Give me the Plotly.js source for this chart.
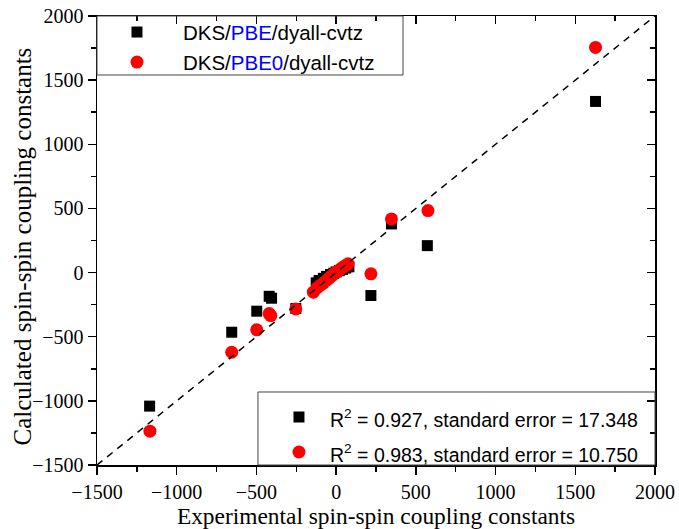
<!DOCTYPE html>
<html>
<head>
<meta charset="utf-8">
<script src="https://cdn.plot.ly/plotly-3.0.1.min.js"></script>
<style>html,body{margin:0;padding:0;background:#fff;}</style>
</head>
<body>
<div id="chart" style="width:679px;height:529px;"></div>
<script>
// Experimental vs calculated spin-spin coupling constants
var expPBE = [1627, 572, 347, 218, -253, -420, -405, -498, -655, -1170,
              -125, -107, -80, -60, -35, -15, 0, 20, 40, 60, 80];
var calcPBE = [1334, 210, 379, -179, -280, -185, -200, -301, -465, -1041,
               -80, -62, -45, -30, -15, -5, 5, 15, 25, 35, 45];
var expPBE0 = [1627, 576, 347, 218, -253, -410, -420, -498, -655, -1168,
               -143, -120, -100, -80, -60, -45, -30, -15, 0, 15, 30, 45, 60, 75];
var calcPBE0 = [1755, 483, 418, -10, -283, -335, -320, -446, -621, -1236,
                -153, -120, -100, -82, -60, -45, -28, -12, 2, 16, 30, 44, 56, 68];
var diagX = [-1500, 2000];
var diagY = [-1500, 2000];
var nameBlack = "<span style='font-size:20.5px'>DKS/<span style='color:#0000ff'>PBE</span>/dyall-cvtz</span>";
var nameRed = "<span style='font-size:20.5px'>DKS/<span style='color:#0000ff'>PBE0</span>/dyall-cvtz</span>";
var statBlack = "<span style='font-size:19.5px'>R<sup>2</sup> = 0.927, standard error = 17.348</span>";
var statRed = "<span style='font-size:19.5px'>R<sup>2</sup> = 0.983, standard error = 10.750</span>";
var xTitle = 'Experimental spin-spin coupling constants';
var yTitle = 'Calculated spin-spin coupling constants';

var serif = "Liberation Serif, Times New Roman, serif";
var sans = "Liberation Sans, Arial, sans-serif";

var traces = [
  {x: expPBE, y: calcPBE, type: 'scatter', mode: 'markers', name: nameBlack,
   marker: {symbol: 'square', size: 11, color: '#000000'}, legend: 'legend'},
  {x: expPBE0, y: calcPBE0, type: 'scatter', mode: 'markers', name: nameRed,
   marker: {symbol: 'circle', size: 13, color: '#ff0000'}, legend: 'legend'},
  {x: [null], y: [null], type: 'scatter', mode: 'markers', name: statBlack,
   marker: {symbol: 'square', size: 11, color: '#000000'}, legend: 'legend2'},
  {x: [null], y: [null], type: 'scatter', mode: 'markers', name: statRed,
   marker: {symbol: 'circle', size: 13, color: '#ff0000'}, legend: 'legend2'},
  {x: diagX, y: diagY, type: 'scatter', mode: 'lines', xaxis: 'x2', yaxis: 'y2',
   line: {color: '#000000', width: 1.5, dash: '7px,6px'}, showlegend: false, hoverinfo: 'skip'}
];

var axBase = {
  range: [-1500, 2000], dtick: 500, tick0: 0, showgrid: false, zeroline: false,
  showline: true, linecolor: '#000', linewidth: 1.5,
  ticks: 'outside', ticklen: 8, tickwidth: 1.5, tickcolor: '#000',
  minor: {ticks: 'outside', dtick: 250, ticklen: 5, tickwidth: 1.5, tickcolor: '#000', showgrid: false},
  tickfont: {family: serif, size: 20, color: '#000'}
};
function clone(o){ return JSON.parse(JSON.stringify(o)); }

var xa = clone(axBase);
xa.title = {text: xTitle, font: {family: serif, size: 23.4, color: '#000'}, standoff: 8};
var ya = clone(axBase);
var xa2 = clone(axBase);
xa2.overlaying = 'x'; xa2.side = 'top'; xa2.ticks = 'inside'; xa2.minor.ticks = 'inside';
xa2.showticklabels = false; xa2.anchor = 'y2';
var ya2 = clone(axBase);
ya2.overlaying = 'y'; ya2.side = 'right'; ya2.ticks = 'inside'; ya2.minor.ticks = 'inside';
ya2.showticklabels = false; ya2.anchor = 'x2';

var layout = {
  width: 679, height: 529,
  margin: {l: 97, r: 24, t: 16, b: 64},
  paper_bgcolor: '#fff', plot_bgcolor: '#fff',
  showlegend: true,
  xaxis: xa, yaxis: ya, xaxis2: xa2, yaxis2: ya2,
  legend: {x: -0.0108, y: 1.0089, xanchor: 'left', yanchor: 'top', bgcolor: 'rgba(0,0,0,0)',
           borderwidth: 0, font: {family: sans, size: 20.8, color: '#000'},
           itemwidth: 82, tracegroupgap: 0},
  legend2: {x: 0.3064, y: 0.157, xanchor: 'left', yanchor: 'top', bgcolor: 'rgba(0,0,0,0)',
            borderwidth: 0, font: {family: sans, size: 24.6, color: '#000'},
            itemwidth: 52, tracegroupgap: 0},
  annotations: [
    {text: yTitle, xref: 'paper', yref: 'paper', x: 0, y: 0.5, xanchor: 'center', yanchor: 'middle',
     xshift: -75, yshift: -6, textangle: -90, showarrow: false,
     font: {family: serif, size: 25, color: '#000'}}
  ],
  shapes: [
    {type: 'rect', xref: 'paper', yref: 'paper', x0: 0, x1: 0.5484, y0: 0.8686, y1: 1,
     line: {color: '#444', width: 1}, fillcolor: 'rgba(0,0,0,0)'},
    {type: 'rect', xref: 'paper', yref: 'paper', x0: 0.2885, x1: 1, y0: 0, y1: 0.1626,
     line: {color: '#444', width: 1}, fillcolor: 'rgba(0,0,0,0)'}
  ]
};

Plotly.newPlot('chart', traces, layout, {displayModeBar: false, staticPlot: true});
</script>
</body>
</html>
